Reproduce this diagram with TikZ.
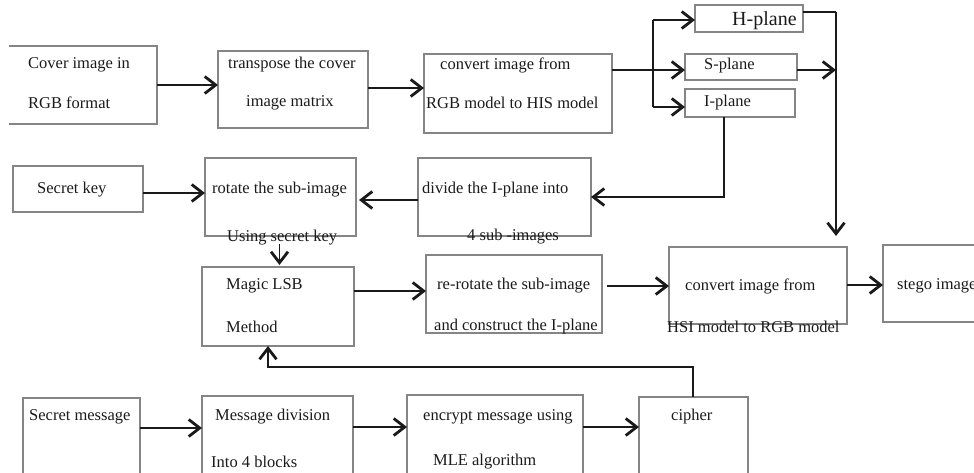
\documentclass[tikz,border=0pt]{standalone}
\usepackage{fontspec}
\setmainfont{Liberation Serif}
\usetikzlibrary{arrows.meta,calc}

\definecolor{boxline}{HTML}{858585}
\definecolor{ink}{HTML}{1A1A1A}

\tikzset{
  box/.style={draw=boxline, line width=1.3pt, inner sep=0pt, outer sep=0pt,
              anchor=north west, fill=none},
  openbox/.style={draw=none, inner sep=0pt, outer sep=0pt, anchor=north west},
  lbl/.style={anchor=west, inner sep=0pt, text=ink,
              font=\fontsize{16.5}{18}\selectfont},
  conn/.style={draw=ink, line width=1.4pt},
  arr/.style={conn, -{Straight Barb[length=11pt,width=17pt,line width=2.8pt]}},
}

\begin{document}
\begin{tikzpicture}[x=1pt,y=-1pt]
\useasboundingbox (0,0) rectangle (974,472);
\clip (0,0) rectangle (974,472);

% ---------- boxes ----------
\node[openbox, minimum width=148pt, minimum height=78pt] (cover) at (9,46) {};
\draw[boxline, line width=1.3pt] (cover.north west) -- (cover.north east)
      -- (cover.south east) -- (cover.south west);
\node[box, minimum width=150pt, minimum height=77pt] (transp) at (218,51) {};
\node[box, minimum width=188pt, minimum height=79pt] (conv1)  at (424,54) {};
\node[box, minimum width=108pt, minimum height=27pt] (hpl)    at (695,5) {};
\node[box, minimum width=112pt, minimum height=26pt] (spl)    at (685,54) {};
\node[box, minimum width=110pt, minimum height=28pt] (ipl)    at (685,89) {};
\node[box, minimum width=130pt, minimum height=46pt] (key)    at (13,166) {};
\node[box, minimum width=151pt, minimum height=78pt] (rot)    at (205,158) {};
\node[box, minimum width=173pt, minimum height=78pt] (div)    at (418,158) {};
\node[box, minimum width=152pt, minimum height=79pt] (magic)  at (202,267) {};
\node[box, minimum width=176pt, minimum height=78pt] (rerot)  at (426,255) {};
\node[box, minimum width=178pt, minimum height=77pt] (conv2)  at (669,247) {};
\node[box, minimum width=120pt, minimum height=77pt] (stego)  at (883,245) {};
\node[box, minimum width=117pt, minimum height=100pt] (msg)   at (23,398) {};
\node[box, minimum width=151pt, minimum height=100pt] (mdiv)  at (202,396) {};
\node[box, minimum width=176pt, minimum height=100pt] (enc)   at (407,395) {};
\node[box, minimum width=109pt, minimum height=100pt] (cipher) at (639,397) {};

% ---------- texts ----------
\node[lbl] (cover1) at (28,65)  {Cover image in};
\node[lbl] (cover2) at (28,103) {RGB format};
\node[lbl] (transp1) at (228,65)  {transpose the cover};
\node[lbl] (transp2) at (246,103) {image matrix};
\node[lbl] (conv1a) at (440,65)  {convert image from};
\node[lbl] (conv1b) at (426,103) {RGB model to HIS model};
\node[lbl, font=\fontsize{20}{22}\selectfont] (hpllbl) at (732,21) {H-plane};
\node[lbl] (spllbl) at (704,66)  {S-plane};
\node[lbl] (ipllbl) at (704,103) {I-plane};
\node[lbl] (keylbl) at (37,190)  {Secret key};
\node[lbl] (rot1) at (212,190) {rotate the sub-image};
\node[lbl] (rot2) at (227,238) {Using secret key};
\node[lbl] (div1) at (422,190) {divide the I-plane into};
\node[lbl] (div2) at (467,237) {4 sub -images};
\node[lbl] (magic1) at (226,286) {Magic LSB};
\node[lbl] (magic2) at (226,327) {Method};
\node[lbl] (rerot1) at (437,286) {re-rotate the sub-image};
\node[lbl] (rerot2) at (434,327) {and construct the I-plane};
\node[lbl] (conv2a) at (685,286) {convert image from};
\node[lbl] (conv2b) at (667,327) {HSI model to RGB model};
\node[lbl] (stegolbl) at (897,286) {stego image};
\node[lbl] (msglbl) at (29,417)  {Secret message};
\node[lbl] (mdiv1) at (215,417) {Message division};
\node[lbl] (mdiv2) at (211,462) {Into 4 blocks};
\node[lbl] (enc1) at (423,417) {encrypt message using};
\node[lbl] (enc2) at (433,462) {MLE algorithm};
\node[lbl] (cipherlbl) at (671,417) {cipher};

% ---------- helper points ----------
\coordinate (brtop) at (653,20);
\coordinate (brbot) at (653,107);
\coordinate (railtop) at (836,12);
\coordinate (ibend) at (724,197);
\coordinate (fbtop) at (693,367);
\coordinate (fbin) at (268,367);

% ---------- top row ----------
\draw[arr] (cover.east) -- (transp.west |- cover.east);
\draw[arr] ($(transp.east)+(0,-1.5)$) -- ($(conv1.west |- transp.east)+(0,-1.5)$);
\draw[arr] ($(conv1.north east)+(0,16)$) -- ($(spl.west)+(0,3)$);
\draw[conn] (brtop) -- (brbot);
\draw[arr] (brtop) -- (hpl.west |- brtop);
\draw[arr] (brbot) -- (ipl.west |- brbot);

% H and S planes go down to the final conversion
\draw[conn] ($(hpl.north east)+(0,7)$) -- (railtop);
\draw[arr] (railtop) -- ($(railtop |- conv2.north)+(0,-11)$);
\draw[arr] ($(spl.east)+(0,3)$) -- ($(spl.east -| railtop)+(0,3)$);

% I plane goes to the division step
\draw[arr] (ipl.south -| ibend) -- (ibend) -- (div.east |- ibend);

% ---------- middle rows ----------
\draw[arr, shorten >=3pt] ($(div.west)+(0,3)$) -- ($(rot.east)+(0,3)$);
\draw[arr] ($(key.east)+(0,4)$) -- ($(rot.west |- key.east)+(0,4)$);
\draw[arr, shorten >=2pt] ($(rot.south)+(-1,8)$) -- ($(magic.north -| rot.south)+(-1,0)$);
\draw[arr] ($(magic.north east)+(0,24)$) -- ($(rerot.north west)+(0,36)$);
\draw[arr] ($(rerot.north east)+(5,31)$) -- ($(conv2.north west)+(0,39)$);
\draw[arr] ($(conv2.east)+(0,-0.5)$) -- ($(stego.west |- conv2.east)+(0,-0.5)$);

% ---------- bottom row ----------
\draw[arr] ($(msg.north east)+(0,30)$) -- ($(mdiv.north west)+(0,32)$);
\draw[arr] ($(mdiv.north east)+(0,31)$) -- ($(enc.north west)+(0,32)$);
\draw[arr] ($(enc.north east)+(0,32)$) -- ($(cipher.north west)+(0,30)$);

% cipher text fed back into the embedding step
\draw[arr] (cipher.north -| fbtop) -- (fbtop) -- (fbin) -- (magic.south -| fbin);
\end{tikzpicture}
\end{document}
